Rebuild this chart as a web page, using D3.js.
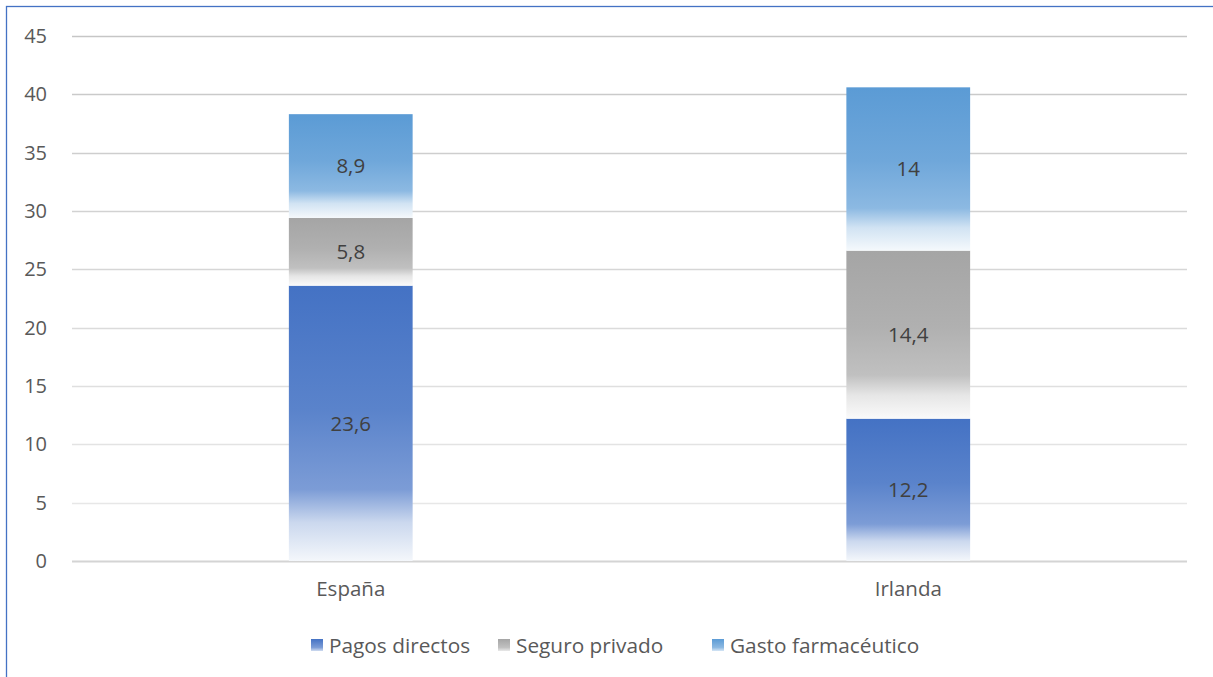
<!DOCTYPE html>
<html>
<head>
<meta charset="utf-8">
<script src="https://cdn.jsdelivr.net/npm/d3@7"></script>
<style>
  html, body { margin: 0; padding: 0; background: #fff; }
  svg { display: block; }
  text { font-family: "Open Sans", "Noto Sans", sans-serif; }
</style>
</head>
<body>
<svg id="chart" width="1213" height="677"></svg>
<script>
// Gasto sanitario privado, por componente
const categories = ["España", "Irlanda"];
const seriesNames = ["Pagos directos", "Seguro privado", "Gasto farmacéutico"];
const pagosDirectos = [23.6, 12.2];
const seguroPrivado = [5.8, 14.4];
const gastoFarmaceutico = [8.9, 14];
const yTicks = [0, 5, 10, 15, 20, 25, 30, 35, 40, 45];
const seriesColors = ["#4472C4", "#A5A5A5", "#5B9BD5"];

const W = 1213, H = 677;
const margin = { top: 36, right: 26, bottom: 116, left: 72 };
const svg = d3.select("#chart");
const FONT = "'Open Sans', 'Noto Sans', sans-serif";

// chart frame (left and top edges visible)
svg.append("rect").attr("x", 6.5).attr("y", 6.5).attr("width", W + 10).attr("height", H + 10)
  .attr("fill", "#fff").attr("stroke", "#4472C4").attr("stroke-width", 1.3);

const x = d3.scaleBand().domain(categories).range([margin.left, W - margin.right])
  .paddingInner(0.778).paddingOuter(0.389);
const y = d3.scaleLinear().domain([0, 45]).range([H - margin.bottom, margin.top]);

// gridlines
const grid = svg.append("g");
const gridColor = d3.interpolateRgb("#ebebeb", "#c6c6c6");
grid.selectAll("line").data(yTicks).join("line")
  .attr("x1", margin.left).attr("x2", W - margin.right)
  .attr("y1", d => Math.round(y(d)) + 0.5).attr("y2", d => Math.round(y(d)) + 0.5)
  .attr("stroke", d => d === 0 ? "#d4d4d4" : gridColor(d / 45))
  .attr("stroke-width", d => d === 0 ? 2 : 1.5);

// y axis labels
const yAxis = d3.axisLeft(y).tickValues(yTicks).tickSize(0).tickPadding(0).tickFormat(d3.format("d"));
const yg = svg.append("g").attr("transform", `translate(${47},0)`).call(yAxis);
yg.select(".domain").remove();
yg.selectAll("text").attr("fill", "#595959").style("font-size", "20px")
  .style("font-family", FONT);

// x axis labels
const xAxis = d3.axisBottom(x).tickSize(0).tickPadding(0);
const xg = svg.append("g").attr("transform", `translate(0,${H - margin.bottom + 20})`).call(xAxis);
xg.select(".domain").remove();
xg.selectAll("text").attr("fill", "#595959").style("font-size", "20.5px")
  .style("font-family", FONT);

// vertical fade gradients per series
const defs = svg.append("defs");
function addGradient(id, color) {
  const tint = (t) => d3.interpolateRgb(color, "#ffffff")(t);
  const g = defs.append("linearGradient").attr("id", id)
    .attr("x1", 0).attr("y1", 0).attr("x2", 0).attr("y2", 1);
  g.append("stop").attr("offset", "0%").attr("stop-color", color);
  g.append("stop").attr("offset", "45%").attr("stop-color", tint(0.12));
  g.append("stop").attr("offset", "74%").attr("stop-color", tint(0.3));
  g.append("stop").attr("offset", "86%").attr("stop-color", tint(0.72));
  g.append("stop").attr("offset", "100%").attr("stop-color", tint(0.94));
}
seriesColors.forEach((c, i) => addGradient("grad" + i, c));
// legend swatch gradient
seriesColors.forEach((c, i) => {
  const g = defs.append("linearGradient").attr("id", "lgrad" + i)
    .attr("x1", 0).attr("y1", 0).attr("x2", 0).attr("y2", 1);
  g.append("stop").attr("offset", "0%").attr("stop-color", c);
  g.append("stop").attr("offset", "70%").attr("stop-color", d3.interpolateRgb(c, "#fff")(0.3));
  g.append("stop").attr("offset", "100%").attr("stop-color", d3.interpolateRgb(c, "#fff")(0.75));
});

// stacked data
const rows = categories.map((cat, i) => ({
  cat, "Pagos directos": pagosDirectos[i], "Seguro privado": seguroPrivado[i],
  "Gasto farmacéutico": gastoFarmaceutico[i]
}));
const stacked = d3.stack().keys(seriesNames)(rows);

const fmt = v => String(v).replace(".", ",");
const barsG = svg.append("g");
stacked.forEach((layer, si) => {
  const g = barsG.append("g");
  g.selectAll("rect").data(layer).join("rect")
    .attr("x", d => x(d.data.cat))
    .attr("width", x.bandwidth())
    .attr("y", d => y(d[1]))
    .attr("height", d => y(d[0]) - y(d[1]))
    .attr("fill", `url(#grad${si})`);
  g.selectAll("text").data(layer).join("text")
    .attr("x", d => x(d.data.cat) + x.bandwidth() / 2)
    .attr("y", d => (y(d[0]) + y(d[1])) / 2)
    .attr("dy", "0.36em")
    .attr("text-anchor", "middle")
    .attr("fill", "#404040")
    .style("font-size", "20.5px")
    .text(d => fmt(d.data[layer.key]));
});

// legend
const legendX = [311, 498, 712];
const legend = svg.append("g");
seriesNames.forEach((name, i) => {
  const g = legend.append("g").attr("transform", `translate(${legendX[i]},${645})`);
  g.append("rect").attr("x", 0).attr("y", -6).attr("width", 12).attr("height", 12)
    .attr("fill", `url(#lgrad${i})`);
  g.append("text").attr("x", 18).attr("y", 0).attr("dy", "0.36em")
    .attr("fill", "#595959").style("font-size", "20.8px").text(name);
});
</script>
</body>
</html>
